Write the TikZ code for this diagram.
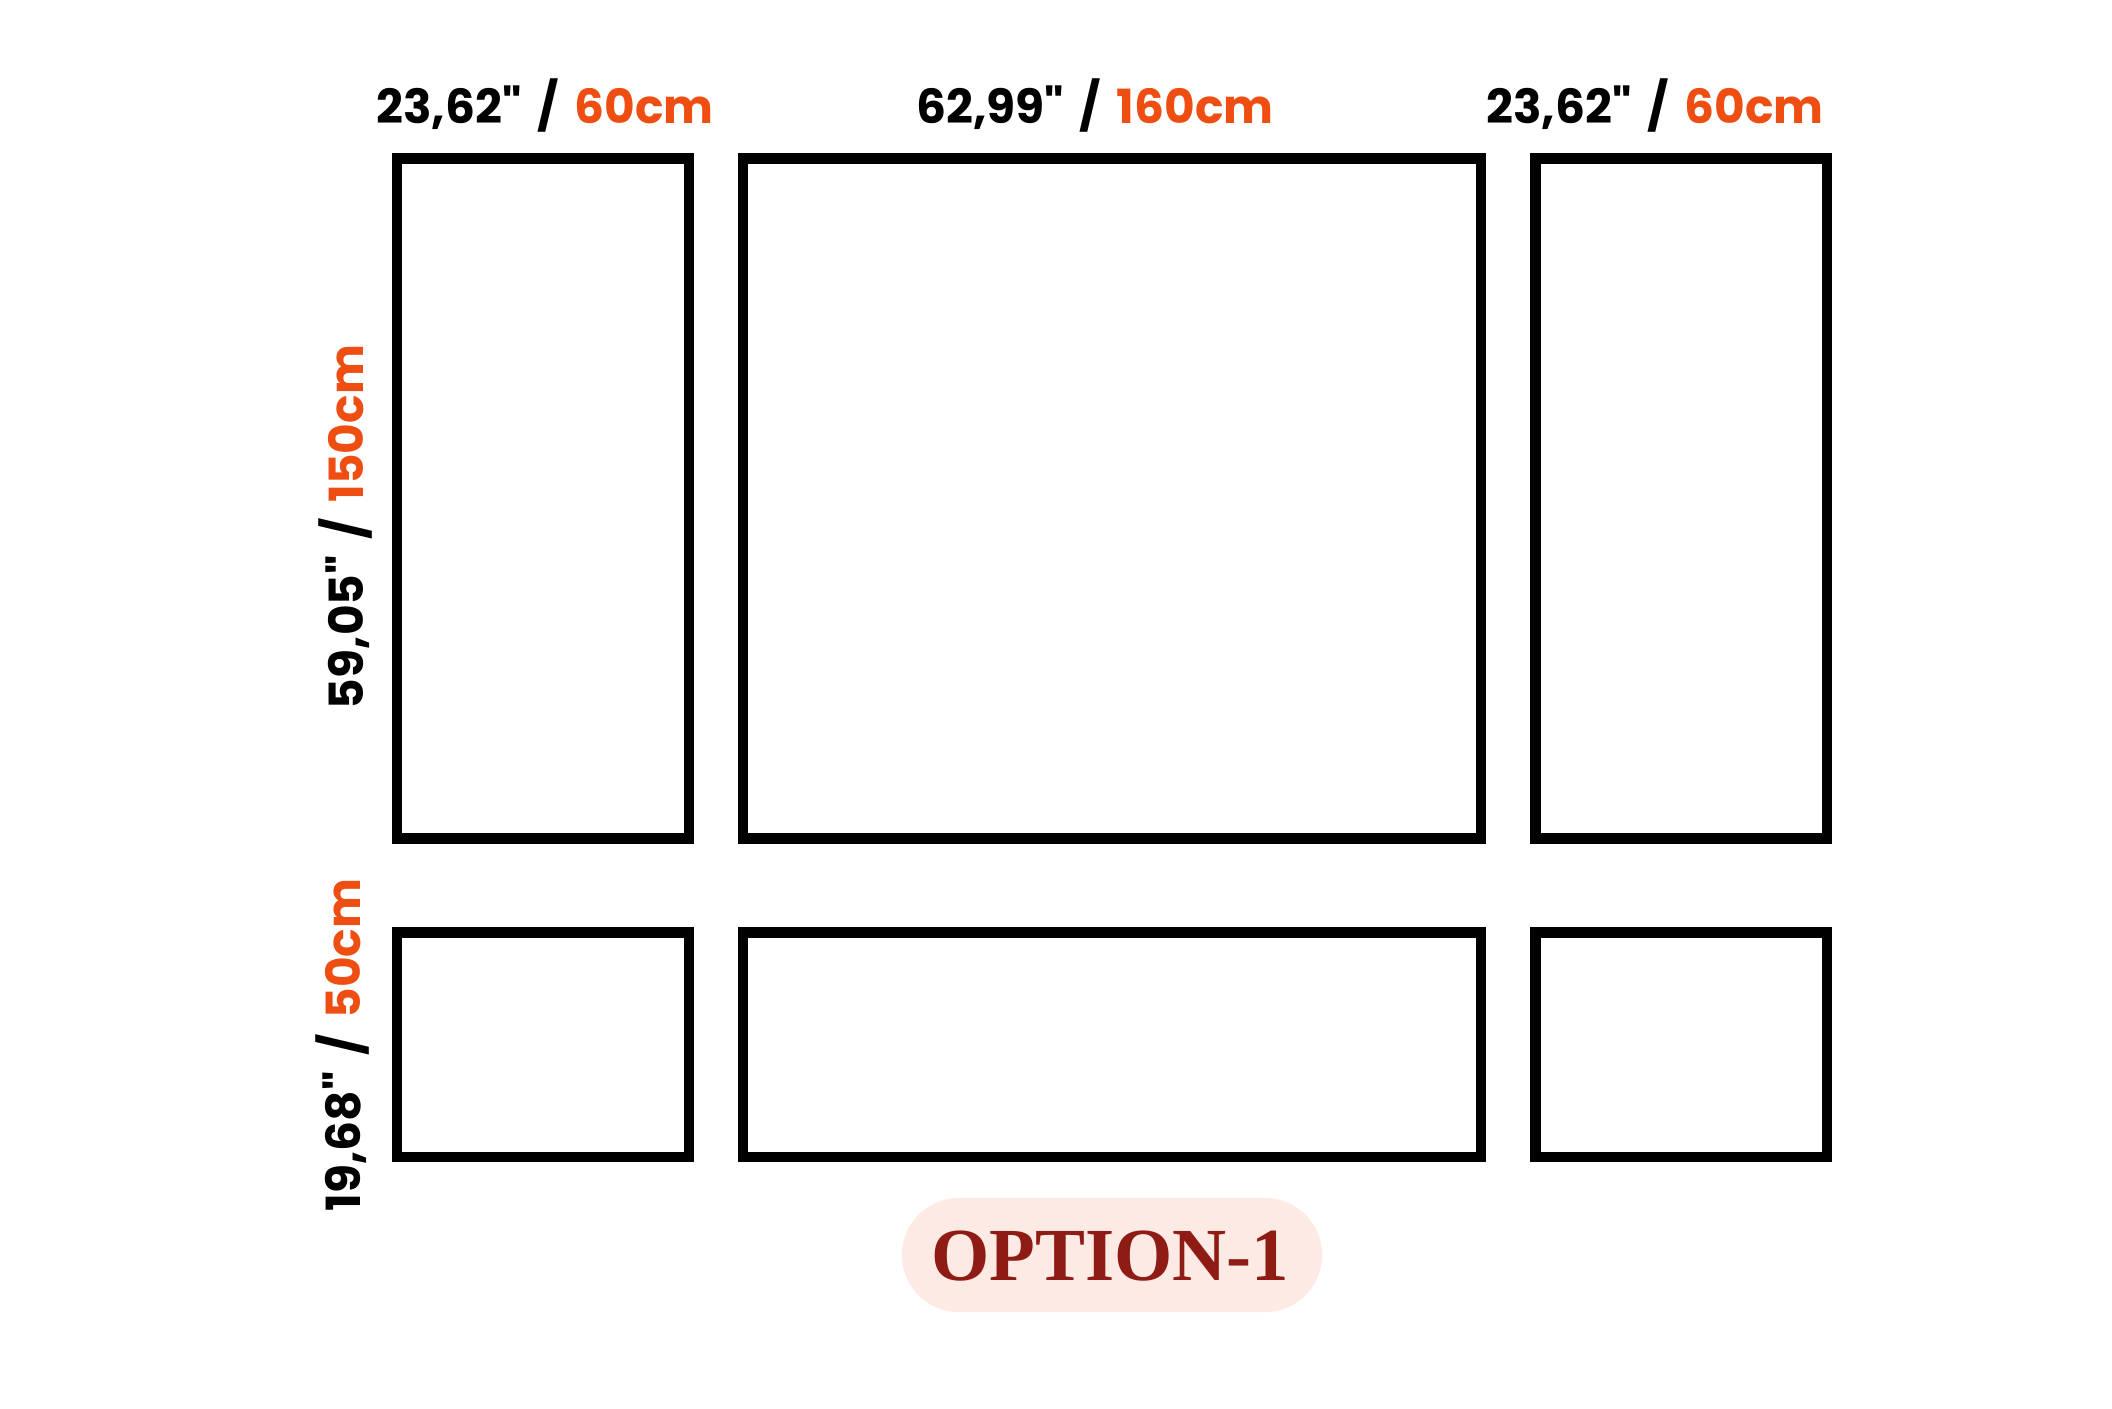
\documentclass[tikz,border=0pt]{standalone}
\usepackage{fontspec}
\newfontfamily\lab{Poppins}
\newfontfamily\optfont{Liberation Serif}
\definecolor{orng}{RGB}{238,78,18}
\definecolor{optred}{RGB}{142,28,20}
\definecolor{pill}{RGB}{253,234,229}
\newcommand{\slsh}{\kern0.12em/\kern0.12em}
\tikzset{
  panel/.style={draw=black,line width=3pt,fill=white},
  dimlab/.style={font=\lab\bfseries\fontsize{13.4}{15}\selectfont,anchor=base,inner sep=0pt},
}
\begin{document}
\begin{tikzpicture}[x=0.01cm,y=-0.01cm]
\useasboundingbox (0,0) rectangle (2112,1408);
% top row
\draw[panel] (397,158.5) rectangle (689,838.5) coordinate (tl);
\draw[panel] (743,158.5) rectangle (1481,838.5) coordinate (tm);
\draw[panel] (1535.5,158.5) rectangle (1827,838.5) coordinate (tr);
% bottom row
\draw[panel] (397,932.5) rectangle (689,1157) coordinate (bl);
\draw[panel] (743,932.5) rectangle (1481,1157) coordinate (bm);
\draw[panel] (1535.5,932.5) rectangle (1827,1157) coordinate (br);
% top labels
\node[dimlab] (l1) at (545,123) {23,62" \slsh{} \textcolor{orng}{60cm}};
\node[dimlab] (l2) at (1095,123) {62,99" \slsh{} \textcolor{orng}{160cm}};
\node[dimlab] (l3) at (1655,123) {23,62" \slsh{} \textcolor{orng}{60cm}};
% vertical labels
\node[dimlab,rotate=90] (v1) at (363,527) {59,05" \slsh{} \textcolor{orng}{150cm}};
\node[dimlab,rotate=90] (v2) at (360,1045) {19,68" \slsh{} \textcolor{orng}{50cm}};
% option pill
\node[fill=pill,rounded corners=0.57cm,minimum width=4.2cm,minimum height=1.14cm,inner sep=0pt] (pillbox) at (1112,1255) {};
\node[font=\optfont\bfseries\fontsize{21.3}{24}\selectfont,text=optred,inner sep=0pt] (opt) at (1110,1256) {OPTION-1};
\end{tikzpicture}
\end{document}
